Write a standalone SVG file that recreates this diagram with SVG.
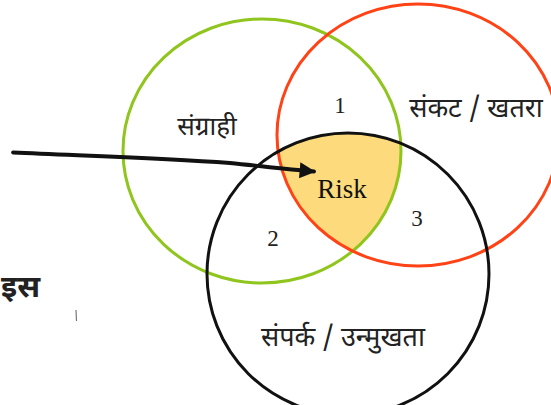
<svg xmlns="http://www.w3.org/2000/svg" width="551" height="405" viewBox="0 0 551 405">
  <style>
    .ring { fill: none; stroke-width: 3; }
    .dev { font-family: "Noto Sans Devanagari", "Noto Sans", "DejaVu Sans", sans-serif; fill: #222; }
    .num { font-family: "Liberation Serif", serif; font-size: 23px; fill: #222; }
    .risk { font-family: "Liberation Serif", serif; font-size: 27px; fill: #111; }
  </style>
  <defs>
    <clipPath id="clipRed"><ellipse cx="418" cy="135" rx="141" ry="131"/></clipPath>
    <clipPath id="clipBlack"><ellipse cx="348" cy="274" rx="141" ry="141"/></clipPath>
    <marker id="arrowHead" viewBox="0 0 10 10" refX="9" refY="5" markerWidth="4.2" markerHeight="4.2" orient="auto" markerUnits="strokeWidth">
      <path d="M0,0 L10,5 L0,10 z" fill="#111"/>
    </marker>
  </defs>

  <rect width="551" height="405" fill="#fff"/>

  <!-- shared region of all three sets -->
  <g id="risk-zone" clip-path="url(#clipRed)">
    <g clip-path="url(#clipBlack)">
      <ellipse cx="262" cy="151" rx="139" ry="132" fill="#fdda7c"/>
    </g>
  </g>

  <g id="susceptibility">
    <ellipse class="ring" cx="262" cy="151" rx="139" ry="132" stroke="#8fc51d"/>
    <text class="dev" x="207" y="135" font-size="26" text-anchor="middle">संग्राही</text>
  </g>

  <g id="hazard">
    <ellipse class="ring" cx="418" cy="135" rx="141" ry="131" stroke="#ff4316"/>
    <text class="dev" x="476" y="117" font-size="27" text-anchor="middle">संकट / खतरा</text>
  </g>

  <g id="exposure">
    <ellipse class="ring" cx="348" cy="274" rx="141" ry="141" stroke="#111"/>
    <text class="dev" x="343" y="346" font-size="27" text-anchor="middle">संपर्क / उन्मुखता</text>
  </g>

  <g id="labels">
    <text class="num" x="340" y="113" text-anchor="middle">1</text>
    <text class="num" x="273" y="246" text-anchor="middle">2</text>
    <text class="num" x="417" y="226" text-anchor="middle">3</text>
    <text class="risk" x="342" y="198" text-anchor="middle">Risk</text>
    <text class="dev" x="1" y="297" font-size="31" font-weight="bold" fill="#111">इस</text>
    <line x1="76" y1="310" x2="76.5" y2="321" stroke="#777" stroke-width="1.2"/>
  </g>

  <g id="connectors">
    <path d="M13,152.5 C90,156 160,158 230,163 C260,166 285,169 314,171.5" fill="none" stroke="#111" stroke-width="3.8" stroke-linecap="round" marker-end="url(#arrowHead)"/>
  </g>
</svg>
